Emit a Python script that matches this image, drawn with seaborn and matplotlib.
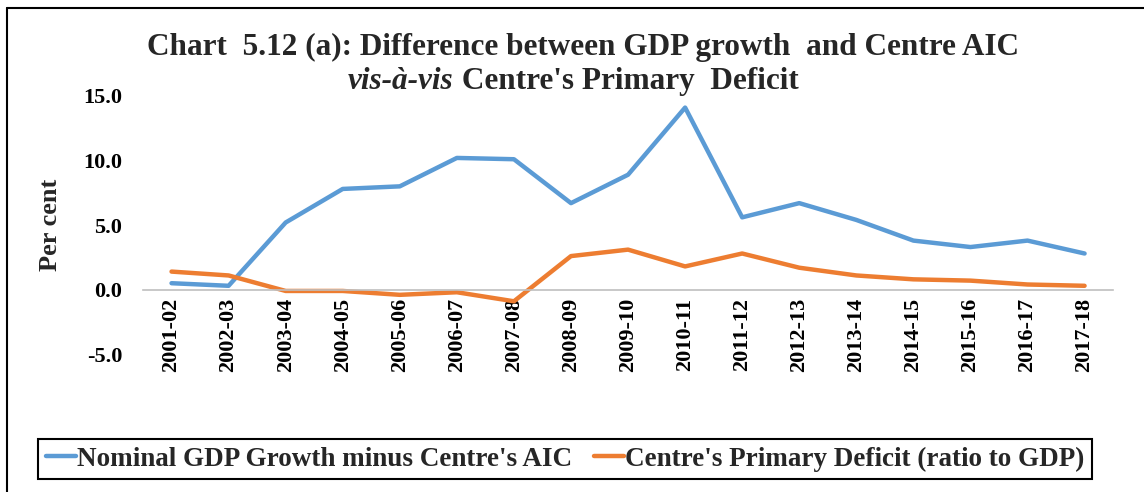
import matplotlib
matplotlib.use("Agg")
import matplotlib.pyplot as plt
from matplotlib.lines import Line2D
import seaborn as sns
import pandas as pd

years = ["2001-02", "2002-03", "2003-04", "2004-05", "2005-06", "2006-07",
         "2007-08", "2008-09", "2009-10", "2010-11", "2011-12", "2012-13",
         "2013-14", "2014-15", "2015-16", "2016-17", "2017-18"]
gdp_minus_aic = [0.5, 0.3, 5.2, 7.8, 8.0, 10.2, 10.1, 6.7, 8.9, 14.1,
                 5.6, 6.7, 5.4, 3.8, 3.3, 3.8, 2.8]
primary_deficit = [1.4, 1.1, -0.1, -0.1, -0.4, -0.2, -0.9, 2.6, 3.1, 1.8,
                   2.8, 1.7, 1.1, 0.8, 0.7, 0.4, 0.3]
series_names = ["Nominal GDP Growth minus Centre's AIC",
                "Centre's Primary Deficit (ratio to GDP)"]
yticks = [-5.0, 0.0, 5.0, 10.0, 15.0]

df = pd.DataFrame({
    "pos": list(range(len(years))) * 2,
    "value": gdp_minus_aic + primary_deficit,
    "series": [series_names[0]] * len(years) + [series_names[1]] * len(years),
})

sns.set_theme(style="white")
plt.rcParams["font.family"] = ["Liberation Serif", "DejaVu Serif"]

fig = plt.figure(figsize=(11.44, 4.92), dpi=100)
ax = fig.add_axes([0.125, 0.280, 0.848, 0.525])

sns.lineplot(data=df, x="pos", y="value", hue="series",
             palette=["#5B9BD5", "#ED7D31"], linewidth=3.2, ax=ax,
             legend=False)

# Category axis sits on the zero line
for side in ("top", "right", "left"):
    ax.spines[side].set_visible(False)
ax.spines["bottom"].set_position(("data", 0))
ax.spines["bottom"].set_color("#BFBFBF")
ax.spines["bottom"].set_linewidth(1.2)

ax.set_xlim(-0.5, len(years) - 0.5)
ax.set_ylim(-5, 15)
ax.set_yticks(yticks)
ax.set_yticklabels([f"{v:.1f}" for v in yticks], fontsize=16, fontweight="bold")
ax.set_xticks(range(len(years)))
ax.set_xticklabels(years, rotation=90, fontsize=16, fontweight="bold")
ax.set_xlabel("")
ax.set_ylabel("Per cent", fontsize=19, fontweight="bold", labelpad=15)

ax.tick_params(axis="both", length=0, colors="black")
ax.tick_params(axis="x", pad=6)
ax.tick_params(axis="y", pad=15)
ax.grid(False)

# Title, with the Latin phrase set in italics
fig.text(0.510, 0.904, "Chart  5.12 (a): Difference between GDP growth  and Centre AIC",
         ha="center", va="center", fontsize=22.5, fontweight="bold")
fig.text(0.396, 0.834, "vis-à-vis", ha="right", va="center", fontsize=22.5,
         fontweight="bold", style="italic")
fig.text(0.397, 0.834, " Centre's Primary  Deficit", ha="left", va="center",
         fontsize=22.5, fontweight="bold")

handles = [Line2D([], [], color="#5B9BD5", linewidth=3.2),
           Line2D([], [], color="#ED7D31", linewidth=3.2)]
leg = fig.legend(handles, series_names, loc="center",
                 bbox_to_anchor=(0.494, 0.067), ncol=2, frameon=True,
                 fancybox=False, framealpha=1, edgecolor="black",
                 prop={"size": 19.5, "weight": "bold"}, handlelength=1.1,
                 handletextpad=0.05, columnspacing=0.8, borderpad=0.28)
leg.get_frame().set_linewidth(1.5)

# Outer frame lines (left and top)
fig.add_artist(Line2D([0.006, 0.006], [0.0, 0.984], color="black", linewidth=1.5,
                      transform=fig.transFigure))
fig.add_artist(Line2D([0.006, 1.0], [0.984, 0.984], color="black", linewidth=1.5,
                      transform=fig.transFigure))

fig.savefig("out.png", dpi=100)
